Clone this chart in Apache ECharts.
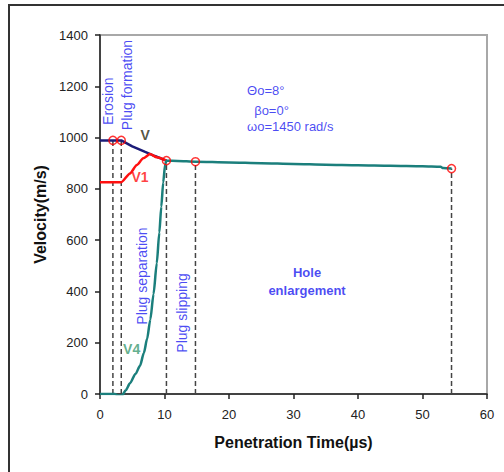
<!DOCTYPE html>
<html><head><meta charset="utf-8">
<script src="https://cdn.jsdelivr.net/npm/echarts@6/dist/echarts.min.js"></script>
<style>html,body{margin:0;padding:0;background:#fff}#c{width:504px;height:472px}</style>
</head><body><div id="c"></div>
<script>
// ---------------- data ----------------
const tV  = [0, 2, 3.3, 5.0, 7.0, 8.5, 10.3];
const vV  = [989, 989, 989, 966, 944, 928, 910];

const tV1 = [0, 3.3, 4.65, 5.7, 6.7, 7.75, 8.8, 10.3];
const vV1 = [826, 826, 860, 893, 919, 936, 923, 910];

const tV4 = [0, 2.3, 2.8, 3.4, 4.0, 4.65, 5.5, 6.2, 6.8, 7.3, 7.8, 8.3, 8.8, 9.2, 9.5, 9.8, 10.1, 10.3, 12, 14.8, 20, 25, 30, 35, 40, 45, 50, 52.8, 53.2, 54.5];
const vV4 = [0, 0, -6, -6, 15, 42, 78, 110, 160, 215, 290, 390, 510, 630, 730, 825, 895, 910, 909, 906, 903, 900, 897, 894, 892, 890, 888, 886, 881, 879];

const eventT = [2, 3.3, 10.3, 14.8, 54.5];
const eventV = [989, 989, 910, 906, 879];

const xTicks = [0, 10, 20, 30, 40, 50, 60];
const yTicks = [0, 200, 400, 600, 800, 1000, 1200, 1400];

const phaseNames = ['Erosion', 'Plug formation', 'Plug separation', 'Plug slipping'];
const paramLines = ['\u0398o=8\u00b0', '\u03b2o=0\u00b0', '\u03c9o=1450 rad/s'];
const curveNames = ['V', 'V1', 'V4'];
const regionName = 'Hole\nenlargement';
const xTitle = 'Penetration Time(\u00b5s)';
const yTitle = 'Velocity(m/s)';

// ---------------- chart ----------------
const FONT = '"Liberation Sans", Arial, sans-serif';
const BLUE = '#1a1af0';
const NAVY = '#1c1c78';
const RED = '#ff1010';
const TEAL = '#1b7f7c';

const zip = (a, b) => a.map((x, i) => [x, b[i]]);

const series = [];
eventT.forEach((t, i) => {
  series.push({
    type: 'line', data: [[t, 0], [t, eventV[i]]], symbol: 'none', silent: true,
    lineStyle: { color: '#444', width: 1.5, type: [5, 3] }, z: 1
  });
});
series.push({ type: 'line', data: zip(tV, vV), symbol: 'none', lineStyle: { color: NAVY, width: 2.5 }, z: 2 });
series.push({ type: 'line', data: zip(tV1, vV1), symbol: 'none', smooth: 0.2, smoothMonotone: 'x', lineStyle: { color: RED, width: 2.5 }, z: 3 });
series.push({ type: 'line', data: zip(tV4, vV4), symbol: 'none', smooth: 0.25, smoothMonotone: 'x', lineStyle: { color: TEAL, width: 2.5 }, z: 4 });
series.push({
  type: 'scatter', data: zip(eventT, eventV), symbol: 'circle', symbolSize: 8, z: 5,
  itemStyle: { color: 'rgba(255,255,255,0)', borderColor: '#ff0000', borderWidth: 1.5 }
});

// annotation texts placed in data coordinates
const vertPos = [[1.3, 1142], [4.2, 1205], [6.5, 460], [12.7, 316]];
const annot = [];
phaseNames.forEach((s, i) => annot.push({
  value: vertPos[i],
  label: { show: true, formatter: s, rotate: 90, position: 'inside', color: BLUE, fontSize: 14, fontFamily: FONT }
}));
annot.push({ value: [32.1, 440], label: { show: true, formatter: regionName, position: 'inside', align: 'center', lineHeight: 18, color: BLUE, fontSize: 13, fontWeight: 'bold', fontFamily: FONT } });
const paramPos = [[22.8, 1185], [23.9, 1107], [22.8, 1045]];
paramLines.forEach((s, i) => annot.push({
  value: paramPos[i],
  label: { show: true, formatter: s, position: 'right', distance: 0, color: BLUE, fontSize: 13, fontFamily: FONT }
}));
const curvePos = [[7.0, 1010], [6.2, 847], [4.9, 174]];
const curveCol = ['#2a2a10', RED, '#3a9a70'];
curveNames.forEach((s, i) => annot.push({
  value: curvePos[i],
  label: { show: true, formatter: s, position: 'inside', color: curveCol[i], fontSize: 14, fontWeight: 'bold', fontFamily: FONT }
}));
series.push({ type: 'scatter', data: annot, symbolSize: 0, silent: true, z: 10 });

const chart = echarts.init(document.getElementById('c'), null, { renderer: 'svg' });
chart.setOption({
  animation: false,
  backgroundColor: '#fff',
  graphic: [{
    type: 'rect', shape: { x: 9, y: 5, width: 700, height: 700 }, silent: true,
    style: { fill: 'none', stroke: '#333', lineWidth: 2 }
  }],
  grid: { left: 100, top: 35, right: 17, bottom: 78, show: true, borderColor: '#a8a8a8', borderWidth: 2 },
  xAxis: {
    type: 'value', min: xTicks[0], max: xTicks[xTicks.length - 1], interval: xTicks[1] - xTicks[0],
    name: xTitle, nameLocation: 'middle', nameGap: 40,
    nameTextStyle: { fontFamily: FONT, fontSize: 16, fontWeight: 'bold', color: '#111' },
    axisLine: { show: true, lineStyle: { color: '#222', width: 1.5 } },
    axisTick: { show: true, length: 5, lineStyle: { color: '#222', width: 1.5 } },
    axisLabel: { fontFamily: FONT, fontSize: 13, color: '#222', margin: 14, formatter: v => String(v) },
    splitLine: { show: false }
  },
  yAxis: {
    type: 'value', min: yTicks[0], max: yTicks[yTicks.length - 1], interval: yTicks[1] - yTicks[0],
    name: yTitle, nameLocation: 'middle', nameGap: 50,
    nameTextStyle: { fontFamily: FONT, fontSize: 16, fontWeight: 'bold', color: '#111' },
    axisLine: { show: true, lineStyle: { color: '#222', width: 1.5 } },
    axisTick: { show: true, length: 5, lineStyle: { color: '#222', width: 1.5 } },
    axisLabel: { fontFamily: FONT, fontSize: 13, color: '#222', margin: 12, formatter: v => String(v) },
    splitLine: { show: false }
  },
  series: series
});
</script></body></html>
